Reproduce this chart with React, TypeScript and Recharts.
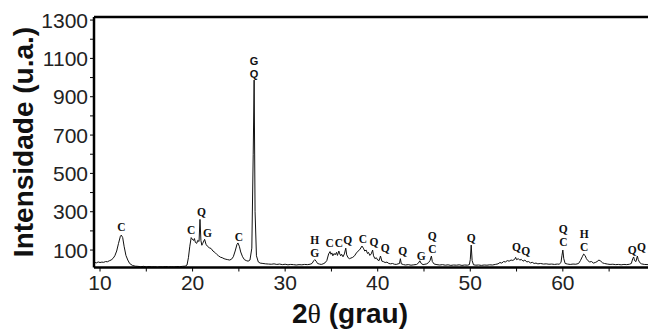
import React from 'react';
import { ComposedChart, Line, Scatter, XAxis, YAxis, ReferenceLine } from 'recharts';

// 2θ (degrees) and intensity (u.a.)
const twoTheta = [
  9.4, 9.6, 9.8, 10.0, 10.2, 10.4, 10.6, 10.8, 11.0, 11.2, 11.4, 11.6, 11.8, 12.0, 12.2, 12.3, 12.45, 12.6, 12.8, 13.0,
  13.2, 13.5, 13.8, 14.1, 14.4, 14.7, 15.0, 15.3, 15.6, 15.9, 16.2, 16.5, 16.8, 17.1, 17.4, 17.7, 18.0, 18.3, 18.6, 18.9,
  19.2, 19.4, 19.55, 19.7, 19.85, 19.95, 20.1, 20.2, 20.3, 20.45, 20.55, 20.7, 20.8, 20.9, 21.0, 21.1, 21.3, 21.45, 21.6, 21.8,
  22.0, 22.2, 22.4, 22.6, 22.8, 23.0, 23.2, 23.4, 23.6, 23.8, 24.0, 24.2, 24.4, 24.6, 24.8, 24.9, 25.05, 25.2, 25.4, 25.6,
  25.8, 26.0, 26.2, 26.4, 26.55, 26.65, 26.75, 26.9, 27.1, 27.3, 27.6, 27.9, 28.2, 28.5, 28.8, 29.1, 29.4, 29.7, 30.0, 30.3,
  30.6, 30.9, 31.2, 31.5, 31.8, 32.1, 32.4, 32.7, 32.9, 33.1, 33.2, 33.35, 33.5, 33.7, 33.9, 34.1, 34.3, 34.5, 34.7, 34.85,
  34.95, 35.05, 35.15, 35.3, 35.4, 35.55, 35.65, 35.8, 35.9, 36.0, 36.1, 36.25, 36.4, 36.55, 36.65, 36.8, 36.95, 37.1, 37.3, 37.5,
  37.7, 37.9, 38.1, 38.3, 38.45, 38.6, 38.75, 38.9, 39.0, 39.15, 39.3, 39.45, 39.55, 39.7, 39.85, 40.0, 40.15, 40.3, 40.45, 40.6,
  40.8, 41.0, 41.2, 41.4, 41.6, 41.8, 42.0, 42.2, 42.35, 42.45, 42.55, 42.8, 43.0, 43.3, 43.6, 43.9, 44.2, 44.4, 44.55, 44.7,
  44.9, 45.1, 45.3, 45.5, 45.65, 45.8, 45.9, 46.1, 46.4, 46.7, 47.0, 47.3, 47.6, 47.9, 48.2, 48.5, 48.8, 49.1, 49.4, 49.7,
  49.9, 50.0, 50.1, 50.2, 50.35, 50.6, 50.9, 51.2, 51.5, 51.8, 52.1, 52.4, 52.7, 53.0, 53.2, 53.4, 53.6, 53.8, 54.0, 54.2,
  54.4, 54.6, 54.8, 54.9, 55.0, 55.2, 55.35, 55.5, 55.7, 55.9, 56.1, 56.3, 56.5, 56.7, 56.9, 57.1, 57.3, 57.6, 57.9, 58.2,
  58.5, 58.8, 59.1, 59.4, 59.6, 59.8, 59.9, 60.0, 60.1, 60.25, 60.5, 60.8, 61.1, 61.4, 61.7, 61.9, 62.1, 62.25, 62.4, 62.55,
  62.7, 62.9, 63.1, 63.3, 63.5, 63.7, 63.9, 64.1, 64.3, 64.5, 64.8, 65.1, 65.4, 65.7, 66.0, 66.3, 66.6, 66.9, 67.2, 67.4,
  67.55, 67.65, 67.75, 67.9, 68.05, 68.15, 68.3, 68.5, 68.8, 69.2,
];
const intensity = [
  36, 33, 38, 35, 37, 36, 40, 39, 44, 48, 56, 70, 95, 135, 172, 178, 165, 120, 72, 48,
  30, 20, 16, 15, 13, 15, 12, 14, 12, 13, 11, 13, 12, 14, 12, 13, 12, 14, 13, 15,
  16, 22, 60, 120, 165, 158, 150, 160, 140, 135, 150, 145, 260, 150, 125, 135, 156, 130, 120, 112,
  108, 95, 88, 78, 70, 63, 60, 55, 52, 50, 48, 52, 65, 95, 130, 137, 120, 90, 65, 50,
  45, 42, 48, 110, 600, 987, 300, 70, 38, 32, 30, 28, 27, 26, 28, 25, 27, 24, 26, 23,
  25, 24, 22, 24, 23, 25, 24, 26, 30, 45, 50, 42, 30, 27, 25, 28, 33, 45, 80, 92,
  78, 85, 70, 82, 75, 88, 72, 95, 80, 70, 78, 65, 80, 110, 75, 60, 55, 58, 62, 70,
  85, 95, 105, 121, 110, 95, 100, 82, 88, 72, 80, 100, 70, 55, 60, 48, 45, 69, 42, 40,
  35, 37, 30, 28, 30, 26, 25, 28, 30, 55, 28, 24, 22, 24, 21, 23, 25, 32, 44, 30,
  24, 26, 28, 35, 45, 69, 40, 27, 24, 22, 24, 21, 23, 20, 22, 21, 23, 20, 22, 21,
  24, 50, 126, 45, 23, 21, 22, 20, 22, 21, 23, 22, 25, 28, 35, 32, 40, 38, 45, 42,
  48, 46, 52, 62, 50, 55, 47, 52, 42, 48, 38, 40, 33, 36, 30, 32, 28, 30, 27, 28,
  26, 27, 25, 27, 26, 35, 70, 100, 55, 30, 27, 25, 27, 26, 30, 45, 65, 79, 72, 55,
  45, 38, 40, 32, 35, 40, 48, 42, 33, 30, 27, 25, 26, 24, 25, 23, 25, 24, 26, 30,
  55, 64, 45, 40, 69, 50, 35, 28, 25, 24,
];

// phase annotations: position (2θ, intensity) and letter
const peakLabelX = [12.3, 19.85, 20.95, 21.6, 25.0, 33.2, 33.2, 34.8, 35.8, 36.75, 38.4, 39.6, 40.8, 42.7, 44.7, 45.9, 45.9, 50.1, 55.0, 56.0, 60.05, 60.05, 62.3, 62.3, 67.5, 68.5];
const peakLabelY = [220, 204, 298, 189, 168, 152, 84, 137, 137, 152, 157, 142, 110, 95, 69, 173, 105, 163, 116, 95, 210, 142, 184, 116, 100, 116];
const peakLabelText = ['C', 'C', 'Q', 'G', 'C', 'H', 'G', 'C', 'C', 'Q', 'C', 'Q', 'Q', 'Q', 'G', 'Q', 'C', 'Q', 'Q', 'Q', 'Q', 'C', 'H', 'C', 'Q', 'Q'];
const mainLabelX = [26.65, 26.65];
const mainLabelY = [1088, 1020];
const mainLabelText = ['G', 'Q'];

const xTicks = [10, 15, 20, 25, 30, 35, 40, 45, 50, 55, 60, 65];
const yTicks = [100, 200, 300, 400, 500, 600, 700, 800, 900, 1000, 1100, 1200, 1300];
const X_MIN = 9.35;
const X_MAX = 69.2;
const Y_MIN = 9;
const Y_MAX = 1316;

const rows = twoTheta.map((t, k) => ({ t, i: intensity[k] }));
const labelRows = peakLabelX.map((t, k) => ({ t, i: peakLabelY[k], text: peakLabelText[k] }));
const mainRows = mainLabelX.map((t, k) => ({ t, i: mainLabelY[k], text: mainLabelText[k] }));

const sans = '"Liberation Sans", Arial, Helvetica, sans-serif';
const serif = '"Liberation Serif", "Times New Roman", serif';

const SerifLabel = (p: any) => (
  <text x={p.cx} y={p.cy} textAnchor="middle" dominantBaseline="central" fontFamily={serif} fontWeight="bold" fontSize={11.5} fill="#111">
    {p.payload.text}
  </text>
);
const SansLabel = (p: any) => (
  <text x={p.cx} y={p.cy} textAnchor="middle" dominantBaseline="central" fontFamily={sans} fontWeight="bold" fontSize={11} fill="#111">
    {p.payload.text}
  </text>
);

export default function App() {
  return (
    <div style={{ position: 'absolute', left: 0, top: 0, width: 648, height: 334, overflow: 'hidden', background: '#fff' }}>
      <ComposedChart width={648} height={334} data={rows} margin={{ top: 17, right: 0, bottom: 36.5, left: 34 }}>
        <XAxis
          dataKey="t"
          type="number"
          domain={[X_MIN, X_MAX]}
          ticks={xTicks}
          allowDataOverflow
          tickFormatter={(v: number) => (v % 10 === 0 ? String(v) : '')}
          height={30}
          tickSize={4}
          tickMargin={4}
          tickLine={{ stroke: '#000', strokeWidth: 1 }}
          axisLine={{ stroke: '#000', strokeWidth: 2.5 }}
          tick={{ fill: '#222', fontSize: 21, fontFamily: sans }}
        />
        <YAxis
          type="number"
          domain={[Y_MIN, Y_MAX]}
          ticks={yTicks}
          allowDataOverflow
          tickFormatter={(v: number) => (v % 200 === 100 ? String(v) : '')}
          width={60}
          tickSize={4}
          tickMargin={2}
          tickLine={{ stroke: '#000', strokeWidth: 1 }}
          axisLine={{ stroke: '#000', strokeWidth: 2.5 }}
          tick={{ fill: '#222', fontSize: 21, fontFamily: sans }}
        />
        <ReferenceLine y={Y_MAX} stroke="#000" strokeWidth={2.5} />
        <Line type="linear" dataKey="i" stroke="#111" strokeWidth={1} dot={false} isAnimationActive={false} />
        <Scatter data={labelRows} dataKey="i" shape={SerifLabel} isAnimationActive={false} />
        <Scatter data={mainRows} dataKey="i" shape={SansLabel} isAnimationActive={false} />
      </ComposedChart>
      <div style={{ position: 'absolute', left: 24, top: 142, transform: 'translate(-50%, -50%) rotate(-90deg)', whiteSpace: 'nowrap', fontFamily: sans, fontWeight: 'bold', fontSize: 28, color: '#111' }}>
        Intensidade (u.a.)
      </div>
      <div style={{ position: 'absolute', left: 350, top: 314, transform: 'translate(-50%, -50%)', whiteSpace: 'nowrap', fontFamily: sans, fontWeight: 'bold', fontSize: 28, color: '#111' }}>
        2<span style={{ fontWeight: 'normal', fontFamily: serif }}>θ</span> (grau)
      </div>
    </div>
  );
}
